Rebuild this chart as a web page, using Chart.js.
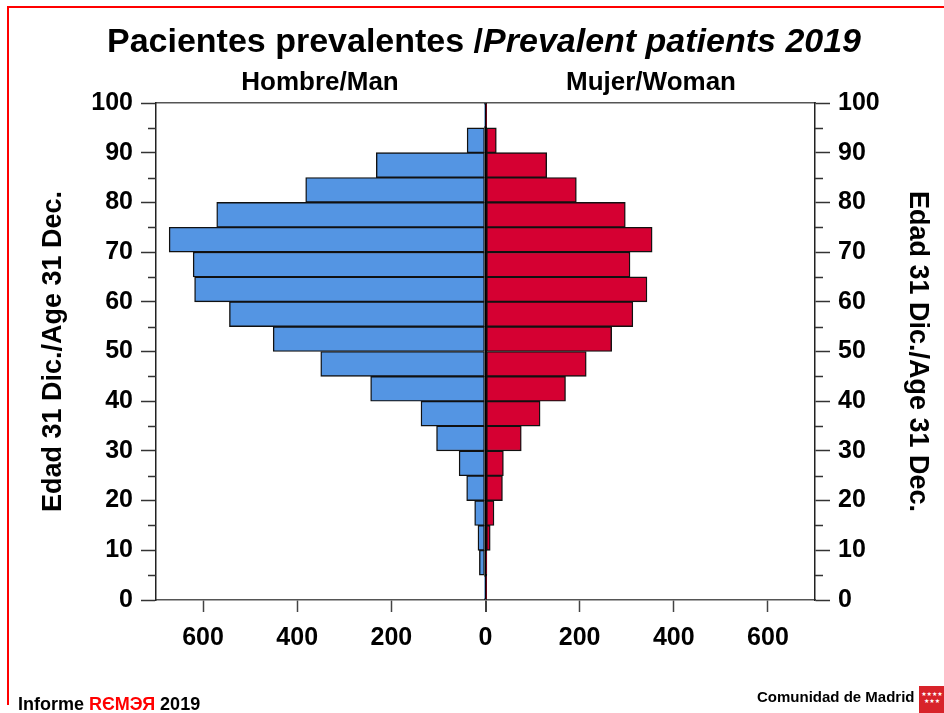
<!DOCTYPE html>
<html>
<head>
<meta charset="utf-8">
<script src="https://cdn.jsdelivr.net/npm/chart.js@4/dist/chart.umd.min.js"></script>
<style>
  body { margin: 0; background: #fff; }
  #wrap { position: relative; width: 944px; height: 713px; overflow: hidden;
          font-family: "Liberation Sans", Arial, sans-serif; font-weight: bold; color: #000; }
  #frame { position: absolute; left: 7px; top: 6px; width: 960px; height: 697px;
           border-top: 2px solid #f00; border-left: 2px solid #f00; }
  .txt { position: absolute; white-space: nowrap; line-height: 1; }
  #logo { position: absolute; left: 919px; top: 686px; width: 26px; height: 27px; background: #d8232a;
          color: #fff; font: 6px "DejaVu Sans", sans-serif; line-height: 7px; text-align: center; padding-top: 4px; box-sizing: border-box; }
  canvas { position: absolute; left: 0; top: 0; }
</style>
</head>
<body>
<div id="wrap">
  <canvas id="myChart" width="944" height="713"></canvas>
  <div id="frame"></div>
  <div class="txt" style="left:484px; top:23px; font-size:34px; transform:translateX(-50%)">Pacientes prevalentes /<i>Prevalent patients 2019</i></div>
  <div class="txt" style="left:320px; top:68px; font-size:26px; transform:translateX(-50%)">Hombre/Man</div>
  <div class="txt" style="left:651px; top:68px; font-size:26px; transform:translateX(-50%)">Mujer/Woman</div>
  <div class="txt" style="left:18px; top:695px; font-size:18px">Informe <span style="color:#f00">RЄMЭЯ</span> 2019</div>
  <div class="txt" style="left:757px; top:689px; font-size:15px">Comunidad de Madrid</div>
  <div id="logo">★★★★<br>★★★</div>
</div>
<script>
// age bands (midpoints of 5-year groups), bottom to top
const ageMid = [2.5, 7.5, 12.5, 17.5, 22.5, 27.5, 32.5, 37.5, 42.5, 47.5,
                52.5, 57.5, 62.5, 67.5, 72.5, 77.5, 82.5, 87.5, 92.5, 97.5];
const men   = [1, 13, 16, 23, 40, 56, 104, 137, 244, 350, 451, 544, 618, 621, 672, 571, 382, 232, 39, 1];
const women = [1, 3, 10, 18, 36, 38, 76, 116, 170, 214, 268, 313, 343, 307, 354, 297, 193, 130, 23, 1];

const yTickValues = [0, 10, 20, 30, 40, 50, 60, 70, 80, 90, 100];
const yMinorTicks = [5, 15, 25, 35, 45, 55, 65, 75, 85, 95];
const xTickValues = [-600, -400, -200, 0, 200, 400, 600];

Chart.defaults.font.family = '"Liberation Sans", Arial, sans-serif';
Chart.defaults.color = '#000';

const tickFont = { size: 25, weight: 'bold' };
const titleFont = { size: 27, weight: 'bold' };

// short ticks at the 5-year marks on both age axes
const minorTicks = {
    id: 'minorTicks',
    afterDraw(chart) {
        const ctx = chart.ctx;
        const area = chart.chartArea;
        ctx.save();
        ctx.strokeStyle = '#333';
        ctx.lineWidth = 1.5;
        ctx.beginPath();
        yMinorTicks.forEach(function (v) {
            const py = Math.round(chart.scales.y.getPixelForValue(v)) + 0.5;
            ctx.moveTo(area.left - 8, py);
            ctx.lineTo(area.left, py);
            ctx.moveTo(area.right, py);
            ctx.lineTo(area.right + 8, py);
        });
        ctx.stroke();
        ctx.restore();
    }
};

const yTicksBuild = function (axis) {
    axis.ticks = yTickValues.map(v => ({ value: v }));
};

const data = {
    datasets: [{
        label: 'Hombre/Man',
        data: ageMid.map((a, i) => ({ x: -men[i], y: a })),
        backgroundColor: '#5495e3',
        borderColor: '#111',
        borderWidth: 1.4,
        borderSkipped: false
    }, {
        label: 'Mujer/Woman',
        data: ageMid.map((a, i) => ({ x: women[i], y: a })),
        backgroundColor: '#d50032',
        borderColor: '#111',
        borderWidth: 1.4,
        borderSkipped: false
    }]
};

const config = {
    type: 'bar',
    data: data,
    options: {
        indexAxis: 'y',
        responsive: false,
        animation: false,
        categoryPercentage: 1,
        barPercentage: 1,
        layout: { padding: { top: 103, left: 0, right: 0, bottom: 0 } },
        plugins: {
            legend: { display: false },
            tooltip: { enabled: false }
        },
        scales: {
            x: {
                type: 'linear',
                position: 'bottom',
                min: -700,
                max: 700,
                stacked: true,
                grid: {
                    drawOnChartArea: true,
                    color: c => (c.tick && c.tick.value === 0) ? '#000' : 'rgba(0,0,0,0)',
                    lineWidth: c => (c.tick && c.tick.value === 0) ? 2 : 1,
                    tickColor: c => (c.tick && c.tick.value === 0) ? '#000' : '#444',
                    tickWidth: 1.5,
                    tickLength: 12
                },
                border: { color: '#555', width: 1.5 },
                ticks: {
                    font: tickFont,
                    padding: 11,
                    callback: v => Math.abs(v)
                },
                afterBuildTicks: axis => { axis.ticks = xTickValues.map(v => ({ value: v })); },
                afterFit: axis => { axis.height = 113; }
            },
            x2: {
                type: 'linear',
                position: 'top',
                min: -700,
                max: 700,
                ticks: { display: false },
                grid: { drawOnChartArea: false, drawTicks: false },
                border: { color: '#555', width: 1.5 },
                afterFit: axis => { axis.height = 0; }
            },
            y: {
                type: 'linear',
                position: 'left',
                min: 0,
                max: 100,
                stacked: true,
                offset: false,
                grid: { offset: false, drawOnChartArea: false, tickLength: 15, tickColor: '#333', tickWidth: 1.5 },
                border: { color: '#222', width: 1.5 },
                ticks: { font: tickFont, padding: 8 },
                title: {
                    display: true,
                    text: 'Edad 31 Dic./Age 31 Dec.',
                    font: titleFont,
                    padding: { top: 37, bottom: 0 }
                },
                afterBuildTicks: yTicksBuild,
                afterFit: axis => { axis.width = 156; }
            },
            y2: {
                type: 'linear',
                position: 'right',
                min: 0,
                max: 100,
                offset: false,
                grid: { offset: false, drawOnChartArea: false, tickLength: 15, tickColor: '#333', tickWidth: 1.5 },
                border: { color: '#222', width: 1.5 },
                ticks: { font: tickFont, padding: 8 },
                title: {
                    display: true,
                    text: 'Edad 31 Dic./Age 31 Dec.',
                    font: titleFont,
                    padding: { top: 10, bottom: 0 }
                },
                afterBuildTicks: yTicksBuild,
                afterFit: axis => { axis.width = 129; }
            }
        }
    },
    plugins: [minorTicks]
};

let myChart = new Chart(
    document.getElementById('myChart'),
    config,
);
</script>
</body>
</html>
